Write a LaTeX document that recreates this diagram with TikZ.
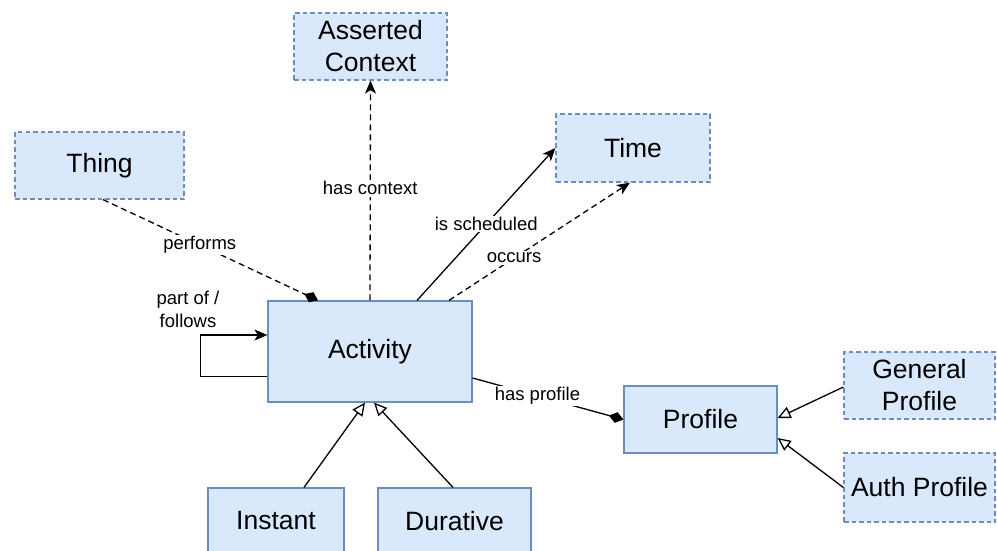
\documentclass[tikz,border=0pt]{standalone}
\usepackage{fontspec}
\setmainfont{Liberation Sans}
\usetikzlibrary{arrows.meta}
\definecolor{boxfill}{HTML}{DAE8FC}
\definecolor{boxline}{HTML}{6C8EBF}
\tikzset{
  cls/.style={draw=boxline, fill=boxfill, line width=1.2pt, rectangle,
    inner sep=0pt, align=center, font=\fontsize{26.5}{32}\selectfont},
  ext/.style={cls, dash pattern=on 4.5pt off 3pt},
  lbl/.style={fill=white, inner sep=1.5pt, align=center,
    font=\fontsize{18.5}{23}\selectfont},
  rel/.style={line width=1.3pt, draw=black},
  dashrel/.style={rel, dash pattern=on 6pt off 4pt},
  tipstealth/.style={-{Stealth[length=13pt, width=11pt, inset=3.5pt]}},
  tipdiamond/.style={-{Diamond[length=15pt, width=11pt]}},
  tipopen/.style={-{Triangle[open, length=13pt, width=12pt, fill=white]}},
}
\begin{document}
\begin{tikzpicture}[x=1pt, y=-1pt]
  \useasboundingbox (0,0) rectangle (997,550);
  \clip (0,0) rectangle (997,550);

  % classes
  \node[ext, minimum width=153pt, minimum height=67pt] (ctx) at (370.5,46.5) {Asserted\\Context};
  \node[ext, minimum width=169pt, minimum height=67pt] (thing) at (99.5,165.5) {Thing};
  \node[ext, minimum width=154pt, minimum height=68pt] (time) at (633,148) {Time};
  \node[cls, minimum width=204pt, minimum height=101pt] (act) at (370,351.5) {Activity};
  \node[cls, minimum width=153pt, minimum height=67pt] (prof) at (700.5,419.5) {Profile};
  \node[ext, minimum width=151pt, minimum height=67pt] (gen) at (919.5,385.5) {General\\Profile};
  \node[ext, minimum width=151pt, minimum height=69pt] (auth) at (919.5,487.5) {Auth Profile};
  \node[cls, minimum width=136pt, minimum height=66pt] (inst) at (276,521) {Instant};
  \node[cls, minimum width=153pt, minimum height=66pt] (dur) at (454.5,521) {Durative};

  % relations
  \draw[dashrel, tipdiamond] ([xshift=3.5pt]thing.south) -- ([xshift=-52pt]act.north)
    node[lbl, pos=0.45] {performs};
  \draw[dashrel, tipstealth] (act.north) -- (ctx.south)
    node[lbl, pos=0.51] {has context};
  \draw[rel, tipstealth] ([xshift=47pt]act.north) -- (time.west)
    node[lbl, pos=0.5] {is scheduled};
  \draw[dashrel, tipstealth] ([xshift=79pt]act.north) -- ([xshift=-3pt]time.south)
    node[lbl, pos=0.36] {occurs};
  \draw[rel, tipstealth] ([yshift=-25pt]act.west) -- ++(-67,0) |- ([yshift=16.5pt]act.west);
  \node[lbl, fill=none] (loopl) at (188,309) {part of /\\follows};
  \draw[rel, tipdiamond] ([yshift=-26.5pt]act.east) -- (prof.west)
    node[lbl, pos=0.43] {has profile};

  % specialisations
  \draw[rel, tipopen] ([xshift=28pt]inst.north) -- ([xshift=-5pt]act.south);
  \draw[rel, tipopen] ([xshift=-1.5pt]dur.north) -- ([xshift=4pt]act.south);
  \draw[rel, tipopen] ([yshift=-1.5pt]gen.west) -- ([yshift=1.5pt]prof.east);
  \draw[rel, tipopen] (auth.west) -- ([yshift=-18.5pt]prof.east);
\end{tikzpicture}
\end{document}
